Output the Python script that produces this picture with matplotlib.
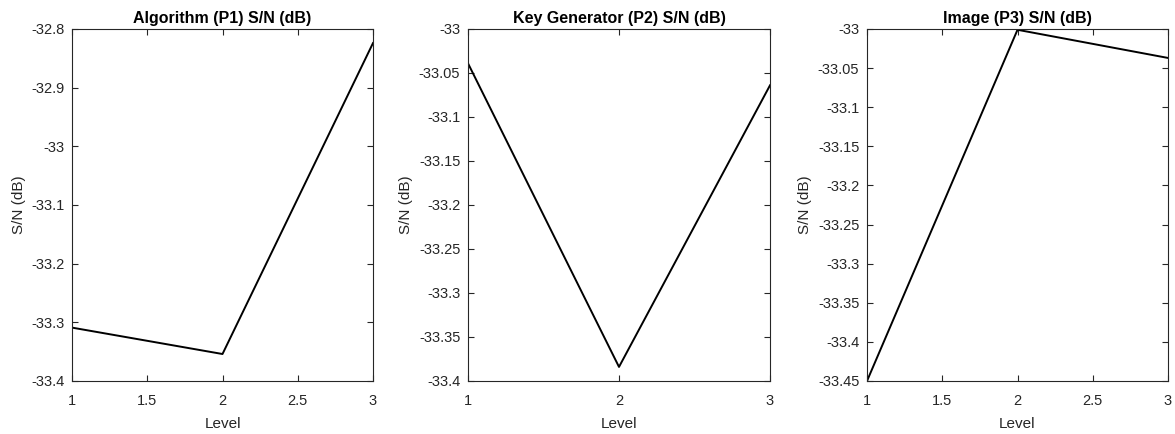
import matplotlib.pyplot as plt
from matplotlib.ticker import FormatStrFormatter, MultipleLocator

# Taguchi-style main effects, S/N ratio per level
levels = [1, 2, 3]
sn_algorithm = [-33.309, -33.354, -32.824]
sn_keygen = [-33.039, -33.384, -33.064]
sn_image = [-33.450, -33.001, -33.037]

titles = ['Algorithm (P1) S/N (dB)', 'Key Generator (P2) S/N (dB)', 'Image (P3) S/N (dB)']
series = [sn_algorithm, sn_keygen, sn_image]
ylims = [(-33.4, -32.8), (-33.4, -33.0), (-33.45, -33.0)]
ysteps = [0.1, 0.05, 0.05]
xsteps = [0.5, 1.0, 0.5]

plt.rcParams['font.family'] = ['Liberation Sans', 'DejaVu Sans']
W, H = 1175, 434
fig = plt.figure(figsize=(W / 100, H / 100), dpi=100)

# axes boxes in pixels (left, right), shared top/bottom
boxes = [(72, 373), (468, 770), (867, 1168)]
top, bottom = 29, 381
grey = '#262626'

for (x0, x1), title, vals, yl, ys, xs in zip(boxes, titles, series, ylims, ysteps, xsteps):
    ax = fig.add_axes([x0 / W, 1 - bottom / H, (x1 - x0) / W, (bottom - top) / H])
    ax.plot(levels, vals, color='black', lw=1.4)
    ax.set_xlim(1, 3)
    ax.set_ylim(*yl)
    ax.xaxis.set_major_locator(MultipleLocator(xs))
    ax.yaxis.set_major_locator(MultipleLocator(ys))
    ax.xaxis.set_major_formatter(FormatStrFormatter('%g'))
    ax.yaxis.set_major_formatter(FormatStrFormatter('%g'))
    ax.tick_params(direction='in', top=True, right=True, length=4, width=0.8,
                   colors=grey, labelsize=10.5)
    ax.tick_params(axis='x', pad=9.5)
    ax.tick_params(axis='y', pad=5.5)
    for s in ax.spines.values():
        s.set_color(grey)
        s.set_linewidth(0.8)
    ax.set_title(title, fontsize=11.5, fontweight='bold', pad=4)
    ax.set_xlabel('Level', fontsize=11, color=grey, labelpad=6)
    ax.set_ylabel('S/N (dB)', fontsize=11, color=grey)

fig.savefig('out.png', dpi=100)
